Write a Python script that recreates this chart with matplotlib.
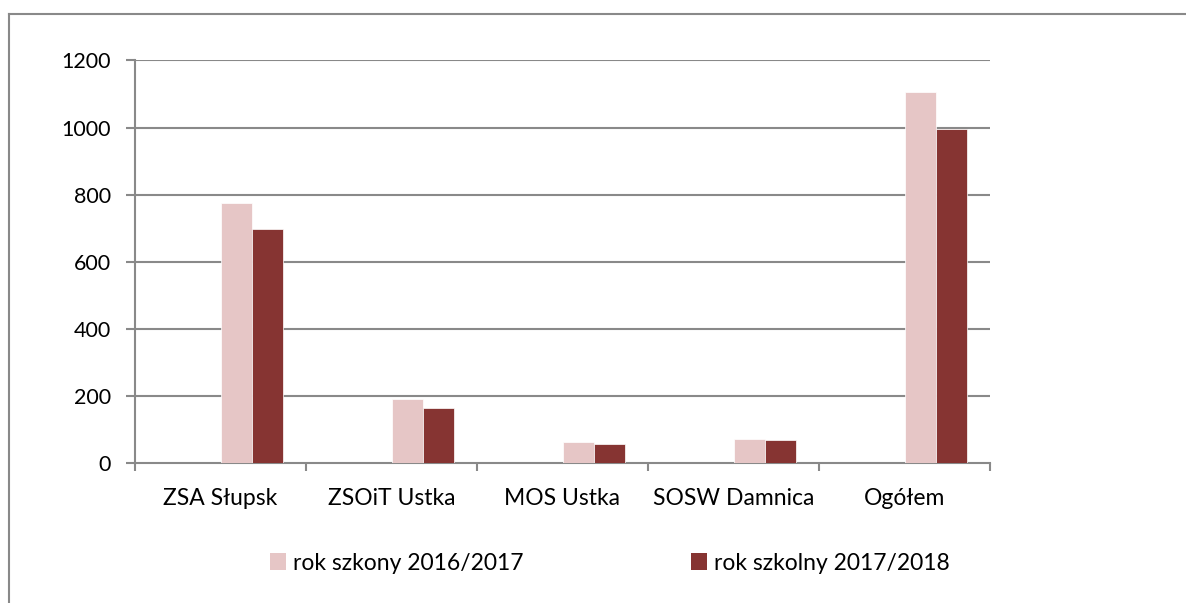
import numpy as np
import matplotlib.pyplot as plt
from matplotlib.patches import Patch
from matplotlib.lines import Line2D

plt.rcParams['font.family'] = ['Lato', 'DejaVu Sans']

categories = ['ZSA Słupsk', 'ZSOiT Ustka', 'MOS Ustka', 'SOSW Damnica', 'Ogółem']
rok_2016 = [774, 191, 63, 72, 1106]
rok_2018 = [698, 165, 57, 69, 996]
labels = ['rok szkony 2016/2017', 'rok szkolny 2017/2018']
colors = ['#E6C6C6', '#863432']
grid_col = '#898989'

fig = plt.figure(figsize=(11.86, 6.03), dpi=100)
ax = fig.add_axes([135 / 1186, 1 - 463.3 / 603, 855 / 1186, 402.9 / 603])

# excel layout: 4 series per group (first two empty), gap width 150%
w = 1 / 5.5
x = np.arange(len(categories)) + 0.5
ax.bar(x + w / 2, rok_2016, width=w, color=colors[0], edgecolor='white', linewidth=0.5, zorder=3)
ax.bar(x + 1.5 * w, rok_2018, width=w, color=colors[1], edgecolor='white', linewidth=0.5, zorder=3)

ax.set_xlim(0, len(categories))
ax.set_ylim(0, 1200)
ax.set_yticks(np.arange(0, 1201, 200))
for v in range(200, 1201, 200):
    ax.axhline(v, color=grid_col, lw=1.5, zorder=1)

ax.set_xticks(np.arange(len(categories) + 1))
ax.set_xticklabels([])
ax.set_xticks(x, minor=True)
ax.set_xticklabels(categories, minor=True, fontsize=16.5)
ax.tick_params(axis='x', which='major', length=6, width=1.5, color=grid_col, direction='out')
ax.tick_params(axis='x', which='minor', length=0, pad=18)
ax.tick_params(axis='y', length=6.5, width=1.5, color=grid_col, labelsize=15.5, pad=11)

for s in ['top', 'right']:
    ax.spines[s].set_visible(False)
for s in ['left', 'bottom']:
    ax.spines[s].set_color(grid_col)
    ax.spines[s].set_linewidth(1.5)

handles = [Patch(facecolor=c, edgecolor='none') for c in colors]
fig.legend(handles, labels, loc='center', bbox_to_anchor=(610 / 1186, 1 - 563 / 603),
           ncol=2, frameon=False, fontsize=16.5, handlelength=0.7, handleheight=0.7,
           handletextpad=0.3, columnspacing=7.3)

# outer chart border
fig.add_artist(Line2D([9 / 1186, 9 / 1186], [0, 1 - 14 / 603], transform=fig.transFigure, color=grid_col, lw=1.5))
fig.add_artist(Line2D([9 / 1186, 1], [1 - 14 / 603, 1 - 14 / 603], transform=fig.transFigure, color=grid_col, lw=1.5))

fig.savefig('out.png', dpi=100)
